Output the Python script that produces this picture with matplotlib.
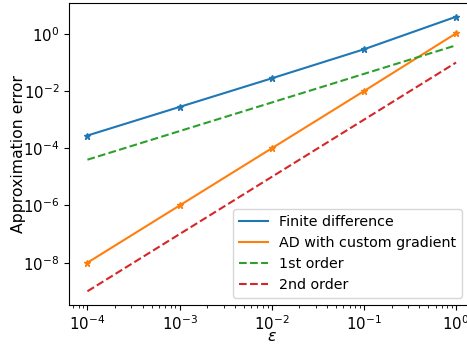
import matplotlib
matplotlib.use("Agg")
import matplotlib.pyplot as plt

eps = [1e-4, 1e-3, 1e-2, 1e-1, 1e0]
err_fd = [2.8e-4, 2.8e-3, 2.8e-2, 2.9e-1, 4.0]
err_ad = [1e-8, 1e-6, 1e-4, 1e-2, 1.05]
first_order = [4e-5, 4e-4, 4e-3, 4e-2, 0.4]
second_order = [1e-9, 1e-7, 1e-5, 1e-3, 0.1]

fig = plt.figure(figsize=(4.67, 3.45), dpi=100)
# the original image is cropped on the right, so the axes run past the edge
ax = fig.add_axes([69 / 467, 40 / 345, 405.5 / 467, 302 / 345])

ax.plot(eps, err_fd, color='C0', label='Finite difference')
ax.plot(eps, err_ad, color='C1', label='AD with custom gradient')
ax.plot(eps, first_order, '--', color='C2', label='1st order')
ax.plot(eps, second_order, '--', color='C3', label='2nd order')
# star markers drawn separately so the legend shows plain lines
ax.plot(eps, err_fd, '*', color='C0', markersize=5)
ax.plot(eps, err_ad, '*', color='C1', markersize=5)

ax.set_xscale('log')
ax.set_yscale('log')
ax.set_xlabel(r'$\varepsilon$', fontsize=11.3)
ax.set_ylabel('Approximation error', fontsize=11.3)
ax.xaxis.set_label_coords(0.5, -0.08)
ax.yaxis.set_label_coords(-0.106, 0.5)
ax.tick_params(labelsize=10.8)
ax.legend(loc='lower right', fontsize=10.3, borderaxespad=0,
          bbox_to_anchor=(462 / 467, 47 / 345), bbox_transform=fig.transFigure)

fig.savefig('out.png', dpi=100)
